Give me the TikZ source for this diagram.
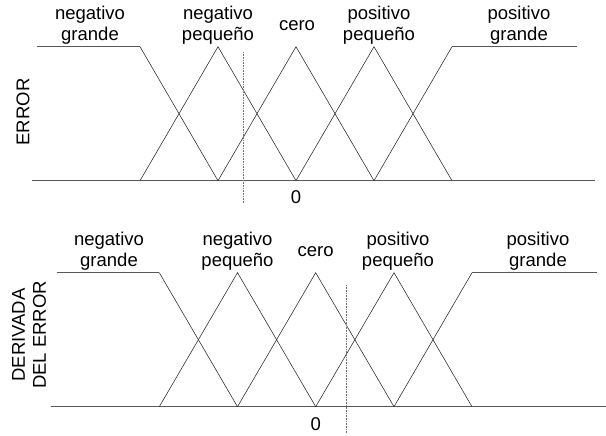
\documentclass[tikz,border=0pt]{standalone}
\usepackage{fontspec}
\setmainfont{Liberation Sans}
\begin{document}
\begin{tikzpicture}[
        x=1pt, y=-1pt,
        label/.style={align=center, inner sep=0pt, font=\fontsize{18.5}{21}\selectfont},
        axis/.style={draw=black!65, line width=0.7pt},
        member/.style={draw=black!85, line width=0.55pt},
        cut/.style={draw=black!55, densely dotted, line width=0.6pt}
        ]
        \useasboundingbox (0,0) rectangle (606,436);

        % error
        \coordinate (eL) at (31.7,180.7);
        \coordinate (eR) at (595,180.7);
        \coordinate (e0) at (36.7,46.7);
        \coordinate (e1) at (140,46.7);
        \coordinate (e2) at (218,46.7);
        \coordinate (e3) at (296,46.7);
        \coordinate (e4) at (374,46.7);
        \coordinate (e5) at (452,46.7);
        \coordinate (e6) at (576.7,46.7);
        \coordinate (b1) at (140,180.7);
        \coordinate (b2) at (218,180.7);
        \coordinate (b3) at (296,180.7);
        \coordinate (b4) at (374,180.7);
        \coordinate (b5) at (452,180.7);
        \coordinate (eT) at (243.3,52);
        \coordinate (eB) at (243.3,203);

        \draw[axis] (eL) -- (eR);
        \draw[axis] (e0) -- (e1);
        \draw[axis] (e5) -- (e6);
        \draw[member] (e1) -- (b2);
        \draw[member] (b1) -- (e2) -- (b3);
        \draw[member] (b2) -- (e3) -- (b4);
        \draw[member] (b3) -- (e4) -- (b5);
        \draw[member] (b4) -- (e5);
        \draw[cut] (eT) -- (eB);

        \node[label] (eng) at (90,25) {negativo\\grande};
        \node[label] (enp) at (218,25) {negativo\\peque\~no};
        \node[label] (ecero) at (297,26) {cero};
        \node[label] (epp) at (379,25) {positivo\\peque\~no};
        \node[label] (epg) at (519,25) {positivo\\grande};
        \node[label] (ezero) at (296,197) {0};
        \node[label, rotate=90] (eaxis) at (23,112) {ERROR};

        % derivada del error
        \coordinate (dL) at (50.7,406.7);
        \coordinate (dR) at (606,406.7);
        \coordinate (d0) at (56.7,272.7);
        \coordinate (d1) at (159.3,272.7);
        \coordinate (d2) at (237.5,272.7);
        \coordinate (d3) at (315.7,272.7);
        \coordinate (d4) at (394,272.7);
        \coordinate (d5) at (472,272.7);
        \coordinate (d6) at (596.7,272.7);
        \coordinate (c1) at (159.3,406.7);
        \coordinate (c2) at (237.5,406.7);
        \coordinate (c3) at (315.7,406.7);
        \coordinate (c4) at (394,406.7);
        \coordinate (c5) at (472,406.7);
        \coordinate (dT) at (346.7,285);
        \coordinate (dB) at (346.7,433);

        \draw[axis] (dL) -- (dR);
        \draw[axis] (d0) -- (d1);
        \draw[axis] (d5) -- (d6);
        \draw[member] (d1) -- (c2);
        \draw[member] (c1) -- (d2) -- (c3);
        \draw[member] (c2) -- (d3) -- (c4);
        \draw[member] (c3) -- (d4) -- (c5);
        \draw[member] (c4) -- (d5);
        \draw[cut] (dT) -- (dB);

        \node[label] (dng) at (109,251) {negativo\\grande};
        \node[label] (dnp) at (237.5,251) {negativo\\peque\~no};
        \node[label] (dcero) at (315.7,252) {cero};
        \node[label] (dpp) at (398,251) {positivo\\peque\~no};
        \node[label] (dpg) at (538,251) {positivo\\grande};
        \node[label] (dzero) at (315.7,424) {0};
        \node[label, rotate=90] (daxis) at (29,335) {DERIVADA\\DEL ERROR};
    \end{tikzpicture}
\end{document}
